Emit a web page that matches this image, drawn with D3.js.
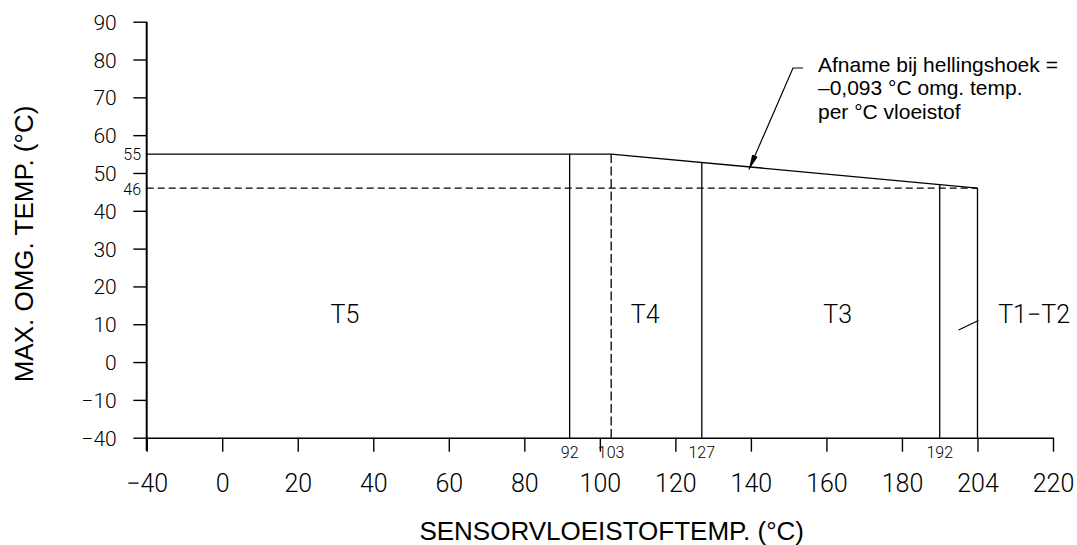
<!DOCTYPE html>
<html>
<head>
<meta charset="utf-8">
<script src="https://cdn.jsdelivr.net/npm/d3@7"></script>
<style>
body { margin: 0; background: #fff; }
.cad { font-family: Roboto, "DejaVu Sans", sans-serif; font-weight: 300; fill: #000; }
.helv { font-family: "Liberation Sans", Arial, sans-serif; fill: #000; }
</style>
</head>
<body>
<svg width="1077" height="545"></svg>
<script>
// tick values (axes are drawn as equal steps, like the original drawing)
var xTicks = [-40, 0, 20, 40, 60, 80, 100, 120, 140, 160, 180, 204, 220];
var yTicks = [-40, -10, 0, 10, 20, 30, 40, 50, 60, 70, 80, 90];

// max ambient temp vs sensor fluid temp
var fluidTemp = [-40, 103, 204];
var maxAmbient = [55, 55, 46];

// temperature class boundaries
var classBounds = [92, 103, 127, 192, 204];
var boundDashed = [false, true, false, false, false];
var refLevels = [55, 46];

var zoneNames = ["T5", "T4", "T3", "T1\u2212T2"];
var zoneLabelX = [32.5, 112, 163, 216];

var slopeNote = ["Afname bij hellingshoek =", "\u20130,093 \u00b0C omg. temp.", "per \u00b0C vloeistof"];

var plotLeft = 146.7, plotRight = 1053, plotTop = 21.7, plotBottom = 437.7;

var svg = d3.select('svg');

var stepX = (plotRight - plotLeft) / (xTicks.length - 1);
var x = d3.scaleLinear()
    .domain(xTicks)
    .range(xTicks.map(function(d, i) { return plotLeft + i * stepX; }));

var stepY = (plotBottom - plotTop) / (yTicks.length - 1);
var y = d3.scaleLinear()
    .domain(yTicks)
    .range(yTicks.map(function(d, i) { return plotBottom - i * stepY; }));

// limit curve as a piecewise scale
var limit = d3.scaleLinear().domain(fluidTemp).range(maxAmbient);

function minus(d) { return d < 0 ? "\u2212" + Math.abs(d) : d; }

// axes
var xAxis = svg.append("g")
    .attr("transform", "translate(0," + plotBottom + ")")
    .call(d3.axisBottom(x).tickValues(xTicks).tickSize(14).tickSizeOuter(0).tickFormat(minus));
xAxis.select(".domain").attr("stroke", "#000").attr("stroke-width", 1.6);
xAxis.selectAll(".tick line").attr("stroke", "#000").attr("stroke-width", 1.4);
xAxis.selectAll("text")
    .attr("class", "cad")
    .attr("y", 54).attr("dy", 0)
    .style("font-size", "25px");

var yAxis = svg.append("g")
    .attr("transform", "translate(" + plotLeft + ",0)")
    .call(d3.axisLeft(y).tickValues(yTicks).tickSize(13.4).tickSizeOuter(0).tickFormat(minus));
yAxis.select(".domain").attr("stroke", "#000").attr("stroke-width", 2)
    .attr("d", "M0," + (plotBottom + 13) + "V" + plotTop);
yAxis.selectAll(".tick line").attr("stroke", "#000").attr("stroke-width", 1.4);
yAxis.selectAll("text")
    .attr("class", "cad")
    .attr("x", -30).attr("dy", "0.36em")
    .style("font-size", "21px");

// dashed reference at 46
svg.append("line")
    .attr("x1", x(-40)).attr("x2", x(204))
    .attr("y1", y(refLevels[1])).attr("y2", y(refLevels[1]))
    .attr("stroke", "#000").attr("stroke-width", 1.3)
    .attr("stroke-dasharray", "7,4");

// class boundaries
svg.selectAll(".bound")
    .data(classBounds)
    .enter()
    .append("line")
    .attr("class", "bound")
    .attr("x1", function(d) { return x(d); })
    .attr("x2", function(d) { return x(d); })
    .attr("y1", function(d) { return y(limit(d)); })
    .attr("y2", y(-40))
    .attr("stroke", "#000").attr("stroke-width", 1.3)
    .attr("stroke-dasharray", function(d, i) { return boundDashed[i] ? "9,3.5" : null; });

// limit curve
var line = d3.line()
    .x(function(d) { return x(d); })
    .y(function(d) { return y(limit(d)); });
svg.append("path")
    .datum(fluidTemp)
    .attr("d", line)
    .attr("fill", "none")
    .attr("stroke", "#000").attr("stroke-width", 1.3);

// small labels on axes
svg.selectAll(".reflab")
    .data(refLevels)
    .enter()
    .append("text")
    .attr("class", "cad")
    .attr("x", 141)
    .attr("y", function(d) { return y(d); })
    .attr("dy", "0.4em")
    .attr("text-anchor", "end")
    .style("font-size", "16px")
    .text(function(d) { return d; });

svg.selectAll(".boundlab")
    .data(classBounds.filter(function(d) { return d !== 204; }))
    .enter()
    .append("text")
    .attr("class", "cad")
    .attr("x", function(d) { return x(d); })
    .attr("y", plotBottom + 20.5)
    .attr("text-anchor", "middle")
    .style("font-size", "16px")
    .text(function(d) { return d; });

// zone labels
svg.selectAll(".zone")
    .data(zoneNames)
    .enter()
    .append("text")
    .attr("class", "cad")
    .attr("x", function(d, i) { return x(zoneLabelX[i]); })
    .attr("y", y(10.3))
    .attr("text-anchor", "middle")
    .style("font-size", "25px")
    .text(function(d) { return d; });

// T1-T2 leader
svg.append("line")
    .attr("x1", x(198)).attr("y1", y(8.5))
    .attr("x2", x(204.2)).attr("y2", y(11))
    .attr("stroke", "#000").attr("stroke-width", 1.2);

// slope annotation
svg.append("defs").append("marker")
    .attr("id", "arrow")
    .attr("viewBox", "0 0 16 8")
    .attr("refX", 15).attr("refY", 4)
    .attr("markerWidth", 16).attr("markerHeight", 8)
    .attr("markerUnits", "userSpaceOnUse")
    .attr("orient", "auto")
    .append("path")
    .attr("d", "M0,1 L16,4 L0,7 Z")
    .attr("fill", "#000");

var tipX = 139.5;
var tip = [x(tipX), y(limit(tipX)) + 3];
var start = [793, 68];
svg.append("path")
    .attr("d", "M" + (start[0] + 10) + "," + start[1] + "H" + start[0] + "L" + tip[0] + "," + tip[1])
    .attr("fill", "none")
    .attr("stroke", "#000").attr("stroke-width", 1.2)
    .attr("marker-end", "url(#arrow)");

svg.append("text")
    .attr("class", "helv")
    .attr("x", 818).attr("y", 72)
    .style("font-size", "21px")
    .selectAll("tspan")
    .data(slopeNote)
    .enter()
    .append("tspan")
    .attr("x", 818)
    .attr("dy", function(d, i) { return i === 0 ? 0 : 23.3; })
    .text(function(d) { return d; });

// axis titles
svg.append("text")
    .attr("class", "helv")
    .attr("x", (416.7 + 806.7) / 2).attr("y", 540)
    .attr("text-anchor", "middle")
    .style("font-size", "26px")
    .text("SENSORVLOEISTOFTEMP. (\u00b0C)");

svg.append("text")
    .attr("class", "helv")
    .attr("transform", "translate(33,244) rotate(-90)")
    .attr("text-anchor", "middle")
    .style("font-size", "26px")
    .text("MAX. OMG. TEMP. (\u00b0C)");
</script>
</body>
</html>
